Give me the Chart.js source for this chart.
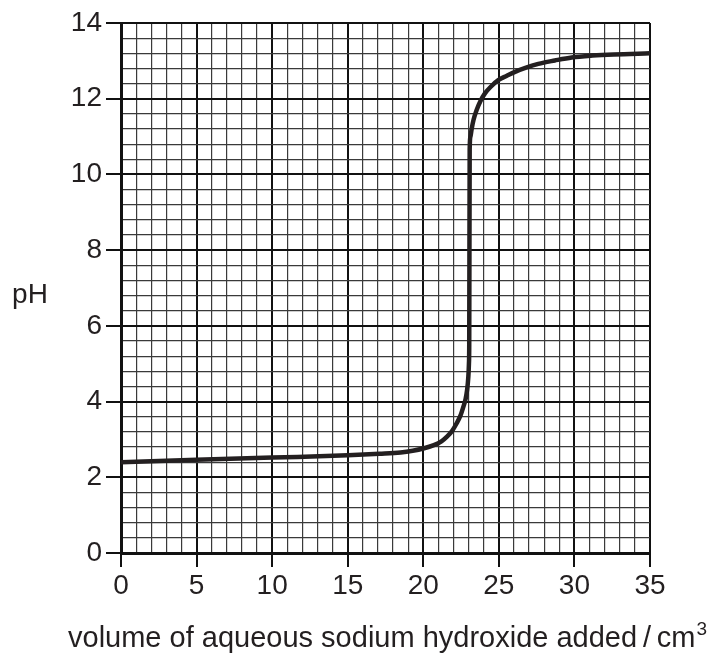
<!DOCTYPE html>
<html>
<head>
<meta charset="utf-8">
<script src="https://cdn.jsdelivr.net/npm/chart.js@4/dist/chart.umd.min.js"></script>
<style>
  html, body { margin: 0; padding: 0; background: #fff; }
  #wrap { width: 710px; height: 654px; }
</style>
</head>
<body>
<div id="wrap"><canvas id="c" width="710" height="654"></canvas></div>
<script>
const volumes = [0, 5, 10, 15, 17.1, 18.5, 19.3, 20.0, 20.7, 21.2, 21.55, 21.9, 22.2, 22.45, 22.65, 22.8, 22.9, 22.98, 23.02, 23.04,
                 23.07, 23.12, 23.2, 23.33, 23.53, 23.8, 24.08, 24.5, 24.96, 25.5, 26.07, 26.8, 27.61, 28.7, 29.82, 31.2, 32.6, 35];
const phValues = [2.40, 2.46, 2.52, 2.58, 2.62, 2.655, 2.70, 2.76, 2.85, 2.95, 3.07, 3.22, 3.42, 3.62, 3.86, 4.07, 4.31, 4.65, 5.0, 5.5,
                  10.65, 11.0, 11.2, 11.45, 11.70, 11.95, 12.14, 12.33, 12.49, 12.6, 12.71, 12.82, 12.92, 13.01, 13.09, 13.14, 13.17, 13.2];
const xTickLabels = [0, 5, 10, 15, 20, 25, 30, 35];
const yTickLabels = [0, 2, 4, 6, 8, 10, 12, 14];
const xTitle = 'volume of aqueous sodium hydroxide added\u2009/\u2009cm';
const xTitleSup = '3';
const yTitle = 'pH';

const FONT = '"Liberation Sans", Arial, sans-serif';
const INK = '#231f20';

function isMajor(v, list) {
  return list.some(t => Math.abs(t - v) < 1e-6);
}

const titlePlugin = {
  id: 'titles',
  afterDraw(chart) {
    const ctx = chart.ctx;
    ctx.save();
    ctx.fillStyle = INK;
    ctx.textBaseline = 'alphabetic';
    ctx.textAlign = 'left';
    ctx.font = '28px ' + FONT;
    const wy = ctx.measureText(yTitle).width;
    ctx.fillText(yTitle, 30 - wy / 2, 303);
    ctx.font = '29px ' + FONT;
    const w1 = ctx.measureText(xTitle).width;
    ctx.font = '19px ' + FONT;
    const w2 = ctx.measureText(xTitleSup).width;
    const x0 = 387 - (w1 + w2) / 2;
    ctx.font = '29px ' + FONT;
    ctx.fillText(xTitle, x0, 647);
    ctx.font = '19px ' + FONT;
    ctx.fillText(xTitleSup, x0 + w1 + 1, 635);
    ctx.restore();
  }
};

new Chart(document.getElementById('c'), {
  type: 'line',
  data: {
    datasets: [{
      data: volumes.map((v, i) => ({ x: v, y: phValues[i] })),
      borderColor: INK,
      borderWidth: 4.5,
      pointRadius: 0,
      cubicInterpolationMode: 'monotone',
      borderJoinStyle: 'round',
      borderCapStyle: 'round',
      fill: false
    }]
  },
  options: {
    responsive: false,
    animation: false,
    devicePixelRatio: 1,
    layout: { padding: { left: 0, top: 23, right: 60, bottom: 0 } },
    plugins: { legend: { display: false }, tooltip: { enabled: false } },
    scales: {
      x: {
        type: 'linear',
        min: 0, max: 35,
        afterFit(s) { s.height = 101; },
        ticks: {
          stepSize: 1,
          autoSkip: false,
          maxRotation: 0,
          padding: 2,
          color: INK,
          font: { size: 28, family: FONT },
          callback: v => isMajor(v, xTickLabels) ? String(v) : ''
        },
        grid: {
          color: c => isMajor(c.tick.value, xTickLabels) ? '#111' : '#3a3a3a',
          lineWidth: c => isMajor(c.tick.value, xTickLabels) ? 2 : 1.2,
          tickColor: c => isMajor(c.tick.value, xTickLabels) ? '#111' : 'rgba(0,0,0,0)',
          tickLength: 14,
          tickWidth: 2
        },
        border: { display: true, color: '#111', width: 3 }
      },
      y: {
        type: 'linear',
        min: 0, max: 14,
        afterFit(s) { s.width = 121; },
        ticks: {
          stepSize: 0.4,
          autoSkip: false,
          padding: 4,
          color: INK,
          font: { size: 28, family: FONT },
          callback: v => isMajor(v, yTickLabels) ? String(Math.round(v)) : ''
        },
        grid: {
          color: c => isMajor(c.tick.value, yTickLabels) ? '#111' : '#3a3a3a',
          lineWidth: c => isMajor(c.tick.value, yTickLabels) ? 2 : 1.2,
          tickColor: c => isMajor(c.tick.value, yTickLabels) ? '#111' : 'rgba(0,0,0,0)',
          tickLength: 15,
          tickWidth: 2
        },
        border: { display: true, color: '#111', width: 3 }
      }
    }
  },
  plugins: [titlePlugin]
});
</script>
</body>
</html>
